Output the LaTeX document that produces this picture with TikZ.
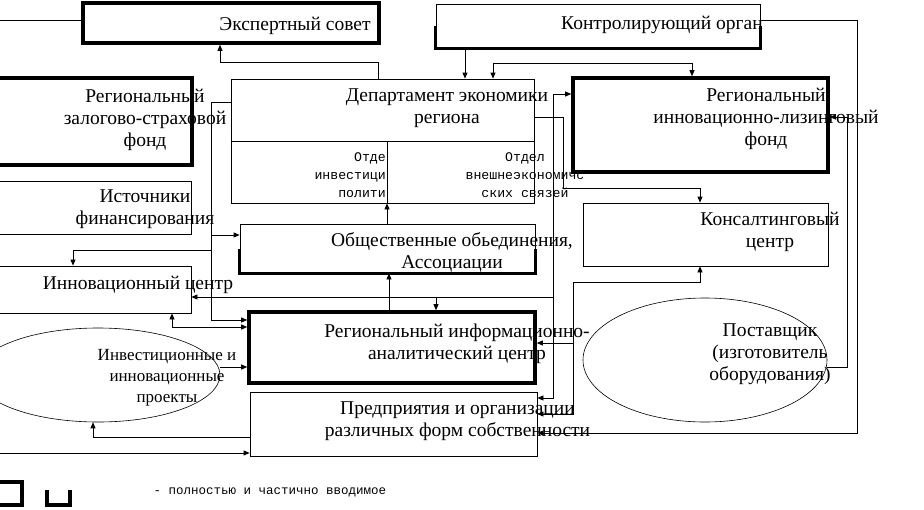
\documentclass[tikz,border=0pt]{standalone}
\usepackage{fontspec}
\setmainfont{Liberation Serif}
\newfontfamily\monofont{Liberation Mono}
\usepackage{tikz}
\usetikzlibrary{arrows.meta, positioning, calc, shapes.geometric}
\tikzset{
  blok/.style={draw, line width=0.8pt, inner sep=0pt},
  blokthick/.style={draw, line width=3.6pt, inner sep=0pt},
  ovalblok/.style={draw, ellipse, line width=0.6pt, inner sep=0pt},
  thickU/.style={line width=3.6pt},
  txt/.style={align=center, inner sep=0pt, anchor=base, font=\fontsize{19.5}{22}\selectfont},
  ovaltxt/.style={align=center, inner sep=0pt, anchor=base, font=\fontsize{17}{21}\selectfont},
  smalltxt/.style={align=center, inner sep=0pt, anchor=base, font=\monofont\fontsize{13.2}{18}\selectfont},
  conn/.style={line width=0.8pt},
  arr/.style={conn, -{Triangle[length=6pt,width=5pt]}},
  arrs/.style={conn, {Triangle[length=6pt,width=5pt]}-{Triangle[length=6pt,width=5pt]}}
}

\begin{document}
\begin{tikzpicture}[x=1pt, y=-1pt]
  \useasboundingbox (0,0) rectangle (924,509);
  \fill[white] (0,0) rectangle (924,509);

  % blocks
  \node[blokthick, minimum width=296pt, minimum height=40pt] (expert) at (231,23) {};
  \node[blok, minimum width=324pt, minimum height=44pt] (ctrl) at (598,26) {};
  \draw[thickU] (ctrl.west) -- (ctrl.south west) -- (ctrl.south east) -- (ctrl.east);
  \node[blokthick, minimum width=197pt, minimum height=87pt] (zalog) at (93.5,121.5) {};
  \node[blok, minimum width=303pt, minimum height=124pt] (dept) at (382.5,141) {};
  \draw[conn] (dept.west |- 0,141) -- (dept.east |- 0,141);
  \draw[conn] (387,141) -- (dept.south -| 387,0);
  \node[blokthick, minimum width=255pt, minimum height=94pt] (ilf) at (700.5,125) {};
  \node[blok, minimum width=196pt, minimum height=53pt] (istoch) at (93,207.5) {};
  \node[blok, minimum width=245pt, minimum height=63pt] (konsalt) at (705.5,234.5) {};
  \node[blok, minimum width=295pt, minimum height=49pt] (obsh) at (387.5,248.5) {};
  \draw[thickU] (obsh.west) -- (obsh.south west) -- (obsh.south east) -- (obsh.east);
  \node[blok, minimum width=196pt, minimum height=47pt] (innov) at (93,289.5) {};
  \node[blokthick, minimum width=286pt, minimum height=71pt] (riac) at (392,347.5) {};
  \node[ovalblok, minimum width=244pt, minimum height=94pt] (invest) at (98,375) {};
  \node[blok, minimum width=287pt, minimum height=64pt] (predpr) at (393.5,424) {};
  \node[ovalblok, minimum width=244pt, minimum height=124pt] (postav) at (705,360) {};

  % texts (base = last line)
  \node[txt] (expertT) at (295,30) {Экспертный совет};
  \node[txt] (ctrlT) at (662,29) {Контролирующий орган};
  \node[txt] (zalogT) at (145,146) {Региональный\\залогово-страховой\\фонд};
  \node[txt] (deptT) at (447,123) {Департамент экономики\\региона};
  \node[smalltxt, align=right, anchor=base east] (otd1T) at (386,197) {Отде\\инвестици\\полити};
  \node[smalltxt] (otd2T) at (525,197) {Отдел\\внешнеэкономичс\\ских связей};
  \node[txt] (ilfT) at (766,145) {Региональный\\инновационно-лизинговый\\фонд};
  \node[txt] (istochT) at (145,224) {Источники\\финансирования};
  \node[txt] (konsaltT) at (770,247) {Консалтинговый\\центр};
  \node[txt] (obshT) at (452,268) {Общественные обьединения,\\Ассоциации};
  \node[txt] (innovT) at (138,289) {Инновационный центр};
  \node[txt] (riacT) at (457,359) {Региональный информационно-\\аналитический центр};
  \node[ovaltxt] (investT) at (167,402) {Инвестиционные и\\инновационные\\проекты};
  \node[txt] (predprT) at (457.5,436) {Предприятия и организации\\различных форм собственности};
  \node[txt] (postavT) at (770,380) {Поставщик\\(изготовитель\\оборудования)};

  % connectors
  \coordinate (leftA) at (0,20);
  \coordinate (leftB) at (0,453);
  \draw[conn] (leftA) -- (expert.west |- leftA);
  \draw[arr] (leftB) -- (predpr.west |- leftB);
  \draw[arr] (dept.north -| 378,0) -- (378,62) -- (220,62) -- (expert.south -| 220,0);
  \draw[arr] (ctrl.south -| 465,0) -- (dept.north -| 465,0);
  \draw[arrs] (dept.north -| 493,0) -- (493,63) -- (692,63) -- (ilf.north -| 692,0);
  \draw[arr] (ctrl.east |- 0,20) -- (857,20) -- (857,433) -- (predpr.east |- 0,433);
  \draw[arr] (dept.west |- 0,102) -- (211,102) -- (211,320) -- (riac.west |- 0,320);
  \draw[arr] (211,235) -- (obsh.west |- 0,235);
  \draw[arr] (211,250) -- (73,250) -- (innov.north -| 73,0);
  \draw[arr] (dept.east |- 0,117) -- (563,117) -- (563,188) -| (konsalt.north -| 700,0);
  \draw[arr] (obsh.north -| 387,0) -- (dept.south -| 387,0);
  \draw[arr] (riac.north -| 389,0) -- (obsh.south -| 389,0);
  \draw[arr] (553,297) |- (ilf.west |- 0,94);
  \draw[arr] (553,297) |- (predpr.east |- 0,398);
  \draw[arr] (553,297) -- (innov.east |- 0,297);
  \draw[arr] (436,297) -- (riac.north -| 436,0);
  \draw[arr] (573,343) -- (573,282) -| (konsalt.south -| 700,0);
  \draw[arr] (573,343) -- (riac.east |- 0,343);
  \draw[arr] (573,343) |- (predpr.east |- 0,414);
  \draw[arr] (postav.east |- 0,367) -- (847,367) -- (847,117) -- (ilf.east |- 0,117);
  \draw[arrs] (riac.west |- 0,327) -- (172,327) -- (innov.south -| 172,0);
  \draw[arr] (invest.east |- 0,367) -- (riac.west |- 0,367);
  \draw[arr] (predpr.west |- 0,437) -- (93,437) -- (invest.south -| 93,0);

  % legend
  \draw[thickU] (-5,482) rectangle (22,505);
  \draw[thickU] (47,490) -- (47,505) -- (70,505) -- (70,490);
  \node[smalltxt, font=\monofont\fontsize{12.5}{18}\selectfont] (legendT) at (270,494) {- полностью и частично вводимое};
\end{tikzpicture}
\end{document}
